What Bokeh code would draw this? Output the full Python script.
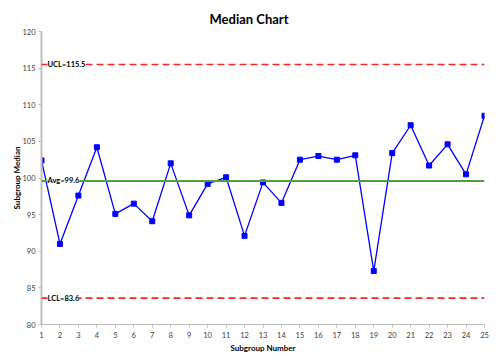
from bokeh.plotting import figure
from bokeh.models import Range1d, FixedTicker, Span, Label, ColumnDataSource
from bokeh.embed import file_html
from bokeh.resources import INLINE

subgroups = list(range(1, 26))
medians = [102.4, 91.0, 97.6, 104.2, 95.1, 96.5, 94.1, 102.0, 94.9, 99.2,
           100.1, 92.1, 99.4, 96.6, 102.5, 103.0, 102.5, 103.1, 87.3, 103.4,
           107.2, 101.7, 104.6, 100.5, 108.5]
ucl = 115.5
avg = 99.6
lcl = 83.6
y_ticks = [80, 85, 90, 95, 100, 105, 110, 115, 120]

FONT = "Lato"

p = figure(frame_width=443, frame_height=293, output_backend="svg", toolbar_location=None,
           x_range=Range1d(1, 25), y_range=Range1d(80, 120),
           min_border_left=41, min_border_right=8, min_border_top=31, min_border_bottom=27)
p.title.text = "Median Chart"
p.title.align = "left"
p.title.offset = 168
p.title.text_font = FONT
p.title.text_font_size = "13px"
p.title.text_font_style = "bold"
p.title.text_color = "black"
p.outline_line_color = None
p.xgrid.grid_line_color = None
p.ygrid.grid_line_color = None

p.xaxis.ticker = FixedTicker(ticks=subgroups)
p.yaxis.ticker = FixedTicker(ticks=y_ticks)
for ax in (p.xaxis[0], p.yaxis[0]):
    ax.axis_line_color = "#bfbfbf"
    ax.major_tick_line_color = "#bfbfbf"
    ax.major_tick_out = 3
    ax.major_tick_in = 0
    ax.minor_tick_line_color = None
    ax.major_label_text_font = FONT
    ax.major_label_text_font_size = "7.5px"
    ax.major_label_text_color = "#404040"
    ax.major_label_standoff = 3
    ax.axis_label_text_font = FONT
    ax.axis_label_text_font_size = "8px"
    ax.axis_label_text_font_style = "bold"
    ax.axis_label_text_color = "black"
p.xaxis.major_label_standoff = 4
p.xaxis.axis_label_standoff = 2
p.yaxis.axis_label_standoff = -3
p.yaxis.axis_line_width = 2
p.xaxis.axis_label = "Subgroup Number"
p.yaxis.axis_label = "Subgroup Median"

p.add_layout(Span(location=ucl, dimension="width", line_color="#f02a2a", line_width=1.6, line_dash="7 4"))
p.add_layout(Span(location=lcl, dimension="width", line_color="#f02a2a", line_width=1.6, line_dash="7 4"))
p.add_layout(Span(location=avg, dimension="width", line_color="#4ea23e", line_width=2))

src = ColumnDataSource(dict(x=subgroups, y=medians))
p.line("x", "y", source=src, line_color="#0000ff", line_width=1.3)
p.scatter("x", "y", source=src, marker="square", size=5, fill_color="#0000ff", line_color="#0000ff")

for val, txt in ((ucl, "UCL=115.5"), (avg, "Avg=99.6"), (lcl, "LCL=83.6")):
    p.add_layout(Label(x=1, y=val, text=txt, x_offset=6, text_baseline="middle",
                       text_font=FONT, text_font_size="7.5px", text_font_style="bold",
                       text_color="black", background_fill_color="white",
                       background_fill_alpha=1.0))

open("out.html", "w").write(file_html(p, INLINE))
